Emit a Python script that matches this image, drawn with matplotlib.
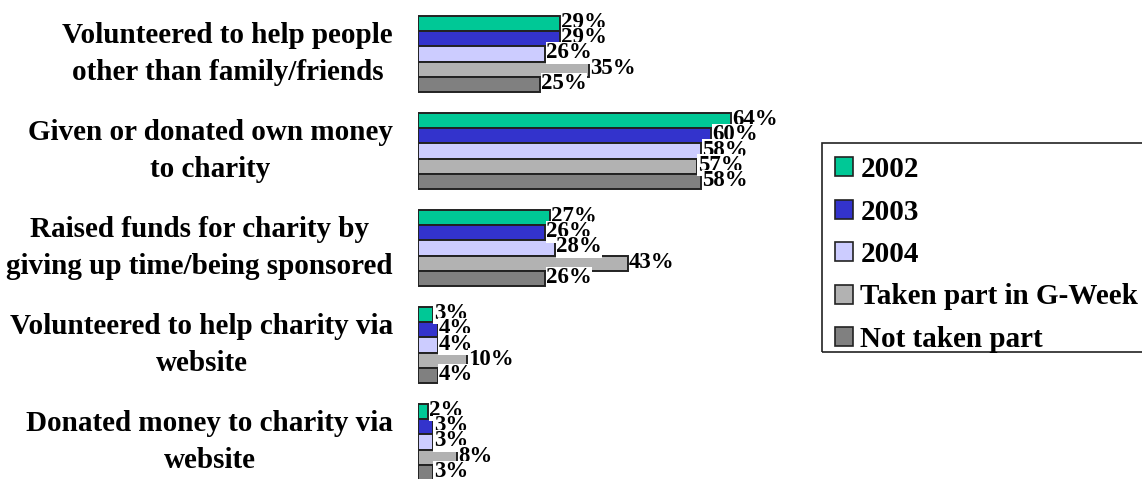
import matplotlib
matplotlib.use("Agg")
import matplotlib.pyplot as plt
from matplotlib.patches import Patch, Rectangle

categories = [
    "Volunteered to help people\nother than family/friends",
    "Given or donated own money\nto charity",
    "Raised funds for charity by\ngiving up time/being sponsored",
    "Volunteered to help charity via\nwebsite",
    "Donated money to charity via\nwebsite",
]
series_names = ["2002", "2003", "2004", "Taken part in G-Week", "Not taken part"]
v2002 = [29, 64, 27, 3, 2]
v2003 = [29, 60, 26, 4, 3]
v2004 = [26, 58, 28, 4, 3]
v_taken = [35, 57, 43, 10, 8]
v_not = [25, 58, 26, 4, 3]
series_values = [v2002, v2003, v2004, v_taken, v_not]
colors = ["#00C896", "#3333CC", "#CCCCFF", "#B2B2B2", "#808080"]

plt.rcParams["font.family"] = ["Liberation Serif", "DejaVu Serif"]
plt.rcParams["font.weight"] = "bold"

W, H = 1142, 479
fig = plt.figure(figsize=(W / 100, H / 100), dpi=100)
ax = fig.add_axes([418 / W, 0, 391 / W, 1])

h = 0.157
n = len(series_names)
for i, (name, vals, c) in enumerate(zip(series_names, series_values, colors)):
    ys = [g + (i - (n - 1) / 2) * h for g in range(len(categories))]
    ax.barh(ys, vals, height=h, color=c, edgecolor="#222222",
            linewidth=1.4, label=name)
    for y, v in zip(ys, vals):
        ax.annotate(f"{v}%", xy=(v, y), xytext=(1, 1), textcoords="offset pixels",
                    ha="left", va="center", fontsize=16.5, fontweight="bold",
                    bbox=dict(facecolor="white", edgecolor="none", pad=0.1))

for g, cat in enumerate(categories):
    ax.annotate(cat, xy=(0, g), xytext=(-25, 0), textcoords="offset pixels",
                ha="right", va="center", multialignment="center",
                fontsize=21, fontweight="bold", linespacing=1.5,
                annotation_clip=False)

ax.set_xlim(0, 80)
ax.set_ylim((479 - 54) / 97, -54 / 97)
ax.axis("off")

# legend frame (extends past right edge, as in the reference)
fig.patches.append(Rectangle((822 / W, 1 - 352 / H), 340 / W, 209 / H,
                             transform=fig.transFigure, fill=False,
                             edgecolor="#222222", linewidth=1.2))

handles = [Patch(facecolor=c, edgecolor="#222222", linewidth=1.2) for c in colors]
leg = fig.legend(handles, series_names, loc="upper left",
                 bbox_to_anchor=(822 / W, 1 - 143 / H),
                 frameon=False,
                 handlelength=0.62, handleheight=0.62,
                 handletextpad=0.25, labelspacing=0.53, borderpad=0.45,
                 borderaxespad=0, prop=dict(weight="bold", size=21))

fig.savefig("out.png", dpi=100)
